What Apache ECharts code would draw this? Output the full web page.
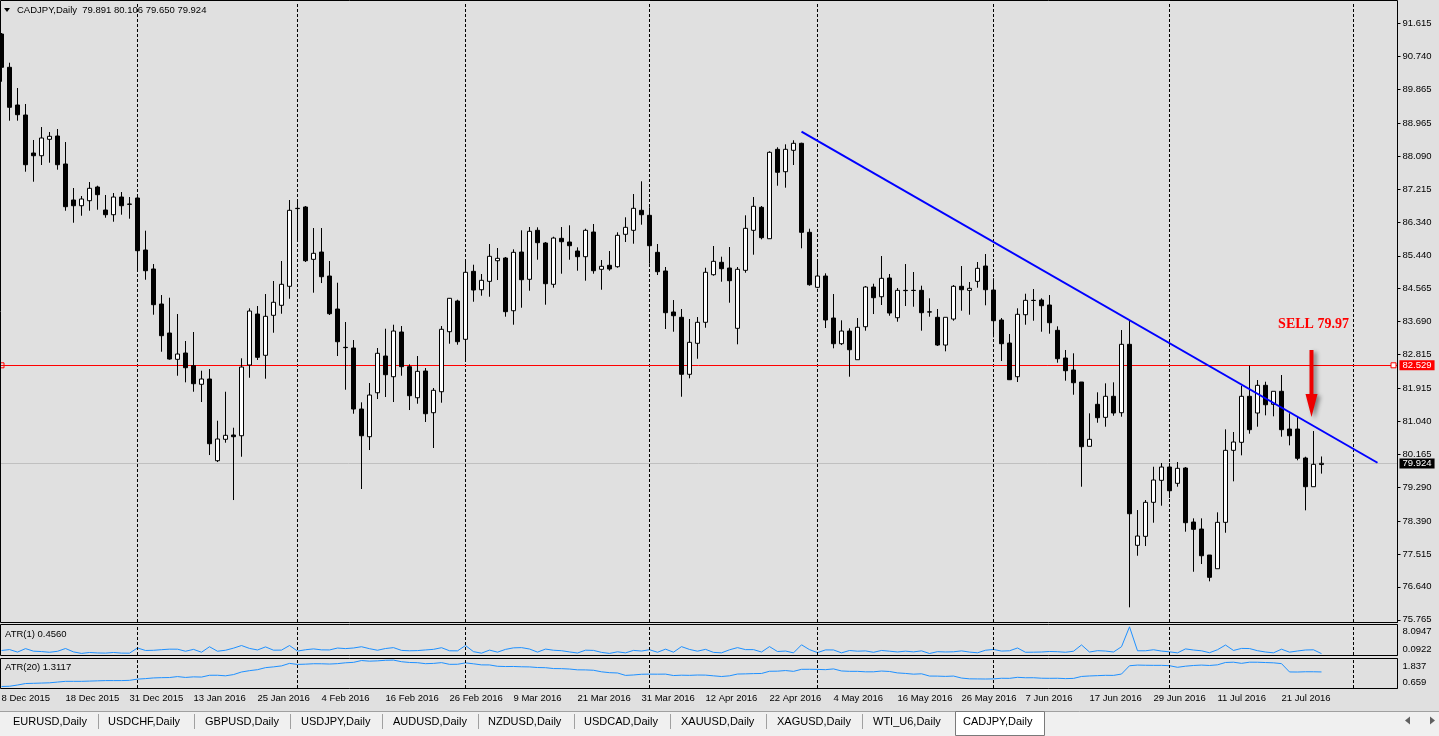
<!DOCTYPE html>
<html><head><meta charset="utf-8">
<script src="https://cdn.jsdelivr.net/npm/echarts@6/dist/echarts.min.js"></script>
<style>html,body{margin:0;padding:0;background:#e0e0e0;overflow:hidden}#c{width:1439px;height:736px}</style>
</head><body><div id="c"></div><script>
// ---------- DATA ----------
const symbolName = 'CADJPY,Daily';
const lastQuote = [79.891, 80.106, 79.650, 79.924];
const monthDays = [
  ['Dec', 2015, [8,9,10,11,14,15,16,17,18,21,22,23,24,28,29,30,31]],
  ['Jan', 2016, [4,5,6,7,8,11,12,13,14,15,18,19,20,21,22,25,26,27,28,29]],
  ['Feb', 2016, [1,2,3,4,5,8,9,10,11,12,15,16,17,18,19,22,23,24,25,26,29]],
  ['Mar', 2016, [1,2,3,4,7,8,9,10,11,14,15,16,17,18,21,22,23,24,25,28,29,30,31]],
  ['Apr', 2016, [1,4,5,6,7,8,11,12,13,14,15,18,19,20,21,22,25,26,27,28,29]],
  ['May', 2016, [2,3,4,5,6,9,10,11,12,13,16,17,18,19,20,23,24,25,26,27,30,31]],
  ['Jun', 2016, [1,2,3,6,7,8,9,10,13,14,15,16,17,20,21,22,23,24,27,28,29,30]],
  ['Jul', 2016, [1,4,5,6,7,8,11,12,13,14,15,18,19,20,21,22,25,26,27,28]]
];
const futureDays = [['Jul', 2016, [29,30,31]], ['Aug', 2016, [1,2,3,4,5,6]]];
const separators = ['4 Jan 2016','1 Feb 2016','1 Mar 2016','1 Apr 2016','2 May 2016','1 Jun 2016','1 Jul 2016','1 Aug 2016'];

const opens = [91.335,90.450,89.448,89.182,88.172,88.100,88.536,88.624,87.880,86.923,86.771,86.904,87.268,86.657,86.532,87.002,86.816,86.976,85.594,85.089,
84.158,83.387,82.688,82.856,82.518,82.024,82.165,79.993,80.562,80.676,80.657,82.537,83.892,82.795,83.858,84.124,84.629,86.702,86.737,85.346,
85.540,84.902,84.025,83.007,82.989,81.367,80.631,81.800,82.776,82.226,83.414,82.492,81.667,82.377,81.269,81.827,83.422,84.238,83.220,85.027,
84.538,84.761,85.309,85.381,83.980,85.540,84.815,86.117,85.780,84.682,85.904,85.806,85.567,85.416,86.072,85.081,85.187,85.150,86.011,86.117,
86.649,86.516,85.532,85.036,83.946,83.805,82.290,83.114,83.672,84.937,85.267,85.115,83.512,85.054,86.117,86.729,85.894,88.270,87.675,88.244,
88.430,86.064,84.602,84.902,83.786,83.103,83.440,82.678,83.555,84.610,84.352,84.849,83.794,84.522,84.522,84.522,83.951,83.805,83.068,83.759,
84.629,84.522,84.761,85.168,84.530,83.733,83.122,82.226,83.874,84.256,84.264,84.132,83.459,82.723,82.404,82.085,80.376,81.492,81.146,81.705,
81.269,83.087,77.744,77.983,78.887,79.472,79.825,79.392,79.799,78.363,78.177,77.486,77.122,78.355,80.269,80.482,81.705,81.261,81.997,81.492,
81.838,80.835,80.835,80.065,79.302,79.891];
const closes = [90.450,89.387,89.190,87.861,88.100,88.571,88.616,87.861,86.745,86.771,86.949,87.234,87.064,86.532,87.002,86.771,86.808,85.575,85.043,84.140,
83.316,82.696,82.829,82.465,82.040,82.165,80.445,80.570,80.668,80.631,82.483,83.972,82.741,83.831,84.204,84.682,86.649,86.694,85.309,85.506,
84.884,83.900,83.156,82.999,81.367,80.657,81.739,82.848,82.279,83.440,82.492,81.721,82.369,81.242,81.864,83.486,84.310,83.156,85.001,84.530,
84.788,85.426,85.373,83.954,85.532,84.804,86.091,85.788,84.698,85.912,85.814,85.708,85.416,86.117,85.043,85.160,85.089,85.984,86.197,86.702,
86.532,85.708,85.017,83.927,83.847,82.290,83.140,83.672,85.001,85.293,85.097,84.778,85.081,86.170,86.755,85.921,88.191,87.659,88.270,88.430,
86.064,84.671,84.902,83.733,83.103,83.440,82.943,83.539,84.610,84.326,84.841,83.919,84.522,84.514,84.517,83.927,83.943,83.068,83.805,84.629,
84.538,84.576,85.107,84.538,83.714,83.103,82.146,83.884,84.256,84.251,84.113,83.661,82.704,82.385,82.066,80.365,80.562,81.136,81.705,81.261,
83.087,78.584,77.991,78.887,79.480,79.825,79.195,79.791,78.345,78.169,77.467,76.893,78.355,80.269,80.490,81.705,80.817,81.997,81.481,81.838,
80.817,80.657,80.057,79.302,79.897,79.924];
const highs = [91.362,90.572,89.900,89.475,88.518,88.863,88.730,88.810,88.464,87.242,87.029,87.401,87.303,87.056,87.109,87.135,87.002,87.037,86.107,85.221,
84.397,84.326,83.892,83.175,83.414,82.385,82.430,81.056,81.827,80.870,82.715,84.044,84.105,84.424,84.770,85.301,86.923,86.949,86.763,86.178,
86.178,85.301,84.724,83.680,83.201,81.545,82.058,82.989,83.502,83.608,83.573,82.555,82.776,82.457,81.926,83.573,84.318,84.273,85.301,85.203,
84.956,85.753,85.647,85.408,85.612,86.117,86.205,86.197,85.806,85.947,86.205,86.250,85.665,86.160,86.285,85.328,85.567,86.064,86.463,87.082,
87.420,86.729,85.753,85.142,84.264,84.025,83.760,83.812,85.123,85.700,85.416,85.673,85.142,86.516,87.002,86.763,88.217,88.324,88.403,88.510,
88.446,86.160,85.301,84.974,84.424,83.725,83.512,83.786,84.637,84.698,85.434,84.956,84.584,85.221,85.009,84.645,84.310,84.025,83.805,84.663,
85.168,84.743,85.275,85.487,84.841,83.786,83.361,84.044,84.432,84.557,84.310,84.397,83.565,82.936,82.848,82.085,81.253,81.811,82.050,82.077,
83.467,83.706,78.682,78.948,79.833,79.932,79.932,79.958,79.825,78.461,78.461,77.486,78.621,80.827,80.756,81.987,82.518,82.138,82.093,81.838,
82.271,81.253,81.163,80.099,80.782,80.106];
const lows = [90.067,89.031,89.031,87.675,87.409,87.853,87.914,87.728,86.638,86.319,86.505,86.638,86.665,86.452,86.346,86.532,86.426,85.070,84.804,83.874,
82.890,82.678,82.252,82.077,81.827,81.553,80.144,79.958,80.472,78.948,80.099,82.199,82.670,82.173,83.395,83.900,84.299,85.806,85.275,84.459,
84.716,83.866,82.776,81.880,81.242,79.241,80.277,81.633,81.686,81.553,82.252,81.340,81.508,81.022,80.331,81.535,83.103,83.076,82.678,84.219,
84.379,84.352,84.796,83.821,83.608,84.060,84.512,85.336,84.140,84.592,84.964,85.336,85.043,84.778,84.964,84.538,85.043,85.123,85.806,85.761,
86.266,85.230,84.929,83.494,83.422,81.694,82.183,82.704,83.528,84.911,84.751,84.193,83.087,84.990,85.469,85.878,85.886,87.303,87.250,87.853,
85.639,84.645,84.576,83.520,82.981,83.068,82.226,82.678,83.449,83.892,84.132,83.847,83.688,84.105,84.086,83.449,83.821,83.042,82.901,83.714,
83.980,83.874,84.592,84.124,83.273,82.643,82.138,82.085,83.608,83.714,83.422,83.369,82.598,82.120,81.747,79.302,80.376,81.003,80.897,81.189,
81.163,76.096,77.467,77.725,78.345,78.797,79.001,79.302,78.106,77.042,77.247,76.787,77.122,78.079,79.445,80.136,80.711,80.897,81.199,81.173,
80.631,80.402,80.004,78.674,79.302,79.650];
const atr1 = [1.30,1.54,0.87,1.80,1.11,1.01,0.82,1.08,1.83,0.92,0.52,0.76,0.64,0.60,0.76,0.60,0.58,1.97,1.30,1.35,
1.51,1.65,1.64,1.10,1.59,0.83,2.29,1.10,1.36,1.92,2.62,1.85,1.44,2.25,1.38,1.40,2.62,1.14,1.49,1.72,
1.46,1.44,1.95,1.80,1.96,2.30,1.78,1.36,1.82,2.06,1.32,1.22,1.27,1.44,1.60,2.04,1.22,1.20,2.62,0.98,
0.58,1.40,0.85,1.59,2.00,2.06,1.69,0.86,1.67,1.36,1.24,0.91,0.62,1.38,1.32,0.79,0.52,0.94,0.66,1.32,
1.15,1.50,0.82,1.65,0.84,2.33,1.58,1.11,1.60,0.79,0.67,1.48,2.06,1.53,1.53,0.89,2.33,1.02,1.15,0.66,
2.81,1.52,0.73,1.45,1.44,0.66,1.29,1.11,1.19,0.81,1.30,1.11,0.90,1.12,0.92,1.20,0.49,0.98,0.90,0.95,
1.19,0.87,0.68,1.36,1.57,1.14,1.22,1.96,0.82,0.84,0.89,1.03,0.97,0.82,1.10,2.78,0.88,1.25,1.15,0.89,
2.30,7.61,1.22,1.22,1.49,1.14,0.93,0.66,1.72,1.42,1.21,0.70,1.50,2.75,1.31,1.85,1.81,1.24,0.89,0.67,
1.64,0.85,1.16,1.43,1.48,0.456];
const atr20 = [0.72,0.73,0.78,0.84,0.85,0.86,0.87,0.90,0.93,0.93,0.93,0.94,0.95,0.96,0.96,0.96,0.97,1.02,1.04,1.068,
1.079,1.084,1.123,1.088,1.112,1.103,1.176,1.177,1.154,1.204,1.309,1.363,1.403,1.486,1.517,1.557,1.659,1.617,1.627,1.645,
1.643,1.632,1.648,1.683,1.701,1.775,1.749,1.762,1.785,1.792,1.727,1.696,1.687,1.647,1.658,1.690,1.620,1.623,1.679,1.642,
1.598,1.596,1.541,1.531,1.533,1.521,1.516,1.491,1.484,1.449,1.445,1.429,1.397,1.394,1.380,1.317,1.282,1.269,1.171,1.188,
1.217,1.222,1.220,1.223,1.165,1.179,1.173,1.186,1.182,1.154,1.125,1.154,1.226,1.233,1.244,1.249,1.339,1.343,1.368,1.335,
1.418,1.419,1.414,1.404,1.434,1.351,1.336,1.336,1.316,1.317,1.348,1.330,1.272,1.251,1.221,1.236,1.144,1.142,1.130,1.144,
1.063,1.031,1.028,1.024,1.030,1.054,1.051,1.093,1.075,1.076,1.056,1.052,1.055,1.040,1.049,1.128,1.148,1.161,1.174,1.171,
1.226,1.563,1.590,1.583,1.579,1.579,1.565,1.500,1.545,1.574,1.590,1.573,1.600,1.696,1.707,1.660,1.707,1.706,1.693,1.682,
1.649,1.311,1.308,1.319,1.318,1.3117];
const priceTicks = [75.765,76.640,77.515,78.390,79.290,80.165,81.040,81.915,82.815,83.690,84.565,85.440,86.340,87.215,88.090,88.965,89.865,90.740,91.615];
const priceRange = [75.706, 92.186];
const atr1Range = [0.0922, 8.0947];
const atr20Range = [0.659, 1.837];
const trendLine = [['28 Apr 2016', 88.738], ['4 Aug 2016', 79.939]];
const levelLine = 82.529;
const bidLine = 79.924;
const sellText = 'SELL 79.97';
const sellTextAt = ['27 Jul 2016', 83.626];
const sellArrowAt = ['27 Jul 2016', 82.045];
const tabs = ['EURUSD,Daily','USDCHF,Daily','GBPUSD,Daily','USDJPY,Daily','AUDUSD,Daily','NZDUSD,Daily','USDCAD,Daily','XAUUSD,Daily','XAGUSD,Daily','WTI_U6,Daily','CADJPY,Daily'];

// ---------- BUILD ----------
const dates = [];
monthDays.forEach(([m, y, ds]) => ds.forEach(d => dates.push(d + ' ' + m + ' ' + y)));
const lastIdx = dates.length - 1;
futureDays.forEach(([m, y, ds]) => ds.forEach(d => dates.push(d + ' ' + m + ' ' + y)));
const candleData = opens.map((o, i) => [o, closes[i], lows[i], highs[i]]);

const FONT = 'Liberation Sans, Arial, sans-serif';
const TXT = {fontFamily: FONT, fontSize: 9.5, color: '#000'};
const sepLines = separators.map(d => ({xAxis: d, label: {show: false},
  lineStyle: {color: '#000', width: 1, type: [3, 2]}}));

const chart = echarts.init(document.getElementById('c'), null, {renderer: 'canvas', width: 1439, height: 736});

const gridL = -2.5, gridW = 1400;
function catAxis(gi, showLabels) {
  return {type: 'category', gridIndex: gi, data: dates, boundaryGap: true,
    axisLine: {show: false}, axisTick: {show: false}, splitLine: {show: false},
    axisLabel: showLabels ? Object.assign({}, TXT, {
      interval: (i) => i % 8 === 0 && i <= lastIdx, align: 'left', margin: 5
    }) : {show: false}};
}
function valAxis(gi, range, ticks, digits, padTop, padBot) {
  return {type: 'value', gridIndex: gi, position: 'right', min: range[0], max: range[1], scale: true,
    axisLine: {show: true, lineStyle: {color: '#000', width: 1}},
    axisTick: {show: gi === 0, length: 3, customValues: ticks, lineStyle: {color: '#000'}},
    splitLine: {show: false},
    axisLabel: Object.assign({}, TXT, {customValues: ticks, margin: 5,
      formatter: (v) => {
        const s = v.toFixed(digits);
        if (gi === 0) return s;
        return (Math.abs(v - range[1]) < 1e-9 ? '{t|' : '{b|') + s + '}';
      },
      rich: {t: {fontFamily: FONT, fontSize: 9.5, color: '#000', padding: [padTop, 0, 0, 0]},
             b: {fontFamily: FONT, fontSize: 9.5, color: '#000', padding: [0, 0, padBot, 0]}}
    })};
}

const graphics = [];
// frames
[[0.5, 0.5, 1397, 622], [0.5, 624.5, 1397, 31], [0.5, 658.5, 1397, 30]].forEach(r => graphics.push({
  type: 'rect', silent: true, z: 50, shape: {x: r[0], y: r[1], width: r[2], height: r[3]},
  style: {fill: 'none', stroke: '#000', lineWidth: 1}}));
// header
graphics.push({type: 'polygon', z: 50, shape: {points: [[4, 8], [10, 8], [7, 12]]}, style: {fill: '#000'}});
graphics.push({type: 'text', z: 50, x: 17, y: 10, style: Object.assign({}, {
  text: symbolName + '  ' + lastQuote.map(v => v.toFixed(3)).join(' '),
  font: '9.5px ' + FONT, fill: '#000', verticalAlign: 'middle'})});
graphics.push({type: 'text', z: 50, x: 5, y: 634, style: {text: 'ATR(1) ' + atr1[lastIdx].toFixed(4),
  font: '9.5px ' + FONT, fill: '#000', verticalAlign: 'middle'}});
graphics.push({type: 'text', z: 50, x: 5, y: 667, style: {text: 'ATR(20) ' + atr20[lastIdx].toFixed(4),
  font: '9.5px ' + FONT, fill: '#000', verticalAlign: 'middle'}});
// tab bar
graphics.push({type: 'rect', z: 40, shape: {x: 0, y: 711, width: 1439, height: 25}, style: {fill: '#f0f0f0'}});
graphics.push({type: 'line', z: 41, shape: {x1: 0, y1: 711.5, x2: 1439, y2: 711.5}, style: {stroke: '#a0a0a0', lineWidth: 1}});
const tabX = [13, 108, 205, 301, 393, 488, 584, 681, 777, 873, 963];
const tabSepX = [98, 194, 290, 382, 478, 574, 670, 766, 862];
graphics.push({type: 'rect', z: 42, shape: {x: 955.5, y: 711.5, width: 89, height: 24}, style: {fill: '#fff', stroke: '#7a7a7a', lineWidth: 1}});
tabSepX.forEach(x => graphics.push({type: 'line', z: 42, shape: {x1: x + 0.5, y1: 714, x2: x + 0.5, y2: 729}, style: {stroke: '#a0a0a0', lineWidth: 1}}));
tabs.forEach((t, i) => graphics.push({type: 'text', z: 43, x: tabX[i], y: 721.5, style: {text: t, font: '11px ' + FONT, fill: '#000', verticalAlign: 'middle'}}));
graphics.push({type: 'polygon', z: 43, shape: {points: [[1405, 720.5], [1410, 716.5], [1410, 724.5]]}, style: {fill: '#606060'}});
graphics.push({type: 'polygon', z: 43, shape: {points: [[1435, 720.5], [1430, 716.5], [1430, 724.5]]}, style: {fill: '#606060'}});

const option = {
  animation: false,
  backgroundColor: '#e0e0e0',
  grid: [
    {left: gridL, top: 2, width: gridW, height: 620, outerBoundsMode: 'none', containLabel: false},
    {left: gridL, top: 625, width: gridW, height: 30, outerBoundsMode: 'none', containLabel: false},
    {left: gridL, top: 659, width: gridW, height: 29, outerBoundsMode: 'none', containLabel: false}
  ],
  xAxis: [catAxis(0, false), catAxis(1, false), catAxis(2, true)],
  yAxis: [
    valAxis(0, priceRange, priceTicks, 3, 0, 0),
    valAxis(1, atr1Range, atr1Range, 4, 12, 12),
    valAxis(2, atr20Range, atr20Range, 3, 14, 11)
  ],
  series: [
    {type: 'candlestick', xAxisIndex: 0, yAxisIndex: 0, data: candleData, barWidth: 4, silent: true, z: 2,
     itemStyle: {color: '#ffffff', color0: '#000000', borderColor: '#000000', borderColor0: '#000000', borderColorDoji: '#000000', borderWidth: 1},
     markLine: {silent: true, symbol: 'none', animation: false, z: 1,
       data: sepLines.concat([
         {yAxis: bidLine, lineStyle: {color: '#c0c0c0', width: 1, type: 'solid'},
          label: {show: true, position: 'end', distance: 2, formatter: bidLine.toFixed(3), color: '#fff', backgroundColor: '#000',
            fontFamily: FONT, fontSize: 9.5, padding: [0, 3, 0, 3], lineHeight: 10}},
         {yAxis: levelLine, lineStyle: {color: '#ff0000', width: 1, type: 'solid'},
          label: {show: true, position: 'end', distance: 2, formatter: levelLine.toFixed(3), color: '#fff', backgroundColor: '#ff0000',
            fontFamily: FONT, fontSize: 9.5, padding: [0, 3, 0, 3], lineHeight: 10}}
       ])},
     markPoint: {silent: true, animation: false,
       data: [
         {coord: [dates[0], levelLine], symbol: 'rect', symbolSize: 5, itemStyle: {color: 'rgba(0,0,0,0)', borderColor: '#ff0000', borderWidth: 1}, label: {show: false}},
         {coord: [dates[dates.length - 1], levelLine], symbol: 'rect', symbolSize: 5, itemStyle: {color: '#ffffff', borderColor: '#ff0000', borderWidth: 1}, label: {show: false}},
         {coord: sellTextAt, symbol: 'rect', symbolSize: 1, itemStyle: {color: 'rgba(0,0,0,0)'},
          label: {show: true, position: 'inside', formatter: sellText, color: '#ff0000', fontWeight: 'bold', fontSize: 14, fontFamily: 'Liberation Serif, Times New Roman, serif'}},
         {coord: sellArrowAt, symbol: 'path://M4,0 L8,0 L8,44 L12,44 L6,67 L0,44 L4,44 Z', symbolSize: [12, 67], symbolKeepAspect: false, symbolOffset: [-2, 0],
          itemStyle: {color: '#ee0000', shadowBlur: 4, shadowColor: 'rgba(0,0,0,0.45)', shadowOffsetX: 3, shadowOffsetY: 2}, label: {show: false}}
       ]}
    },
    {type: 'line', xAxisIndex: 0, yAxisIndex: 0, data: trendLine, symbol: 'none', silent: true, z: 5,
     lineStyle: {color: '#0000ff', width: 2}},
    {type: 'line', xAxisIndex: 1, yAxisIndex: 1, data: atr1, symbol: 'none', silent: true, z: 3,
     lineStyle: {color: '#1e90ff', width: 1},
     markLine: {silent: true, symbol: 'none', animation: false, data: sepLines}},
    {type: 'line', xAxisIndex: 2, yAxisIndex: 2, data: atr20, symbol: 'none', silent: true, z: 3,
     lineStyle: {color: '#1e90ff', width: 1},
     markLine: {silent: true, symbol: 'none', animation: false, data: sepLines}}
  ],
  graphic: graphics
};
chart.setOption(option);
</script></body></html>
